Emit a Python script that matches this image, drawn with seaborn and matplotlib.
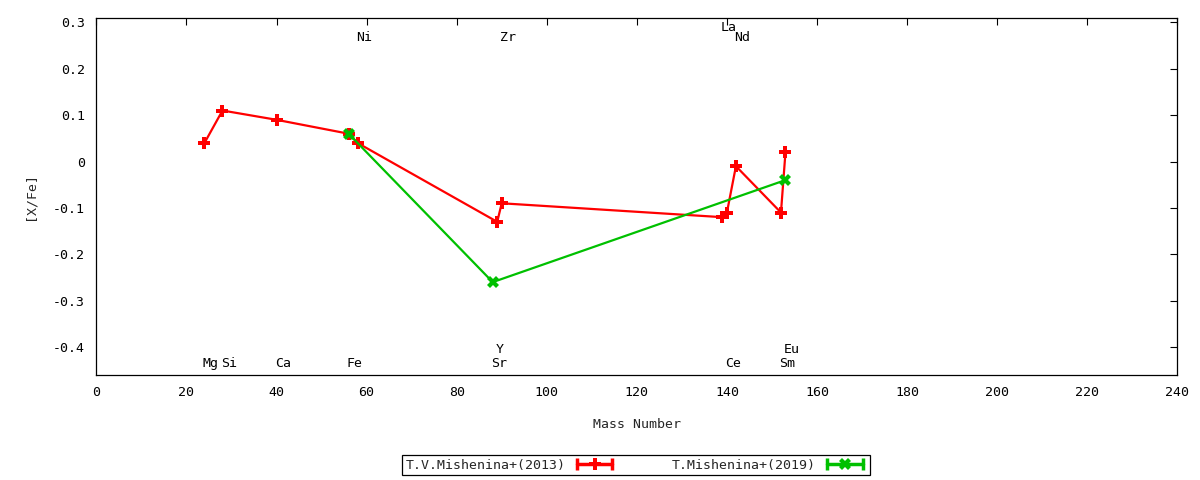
import numpy as np
import pandas as pd
import matplotlib
matplotlib.use("Agg")
import matplotlib.pyplot as plt
from matplotlib.lines import Line2D
from matplotlib.legend_handler import HandlerLine2D, HandlerTuple
import seaborn as sns

# ---- data ----
elements_2013 = ["Mg", "Si", "Ca", "Fe", "Ni", "Y", "Zr", "La", "Ce", "Nd", "Sm", "Eu"]
mass_2013 = [24, 28, 40, 56, 58, 89, 90, 139, 140, 142, 152, 153]
xfe_2013 = [0.04, 0.11, 0.09, 0.06, 0.04, -0.13, -0.09, -0.12, -0.11, -0.01, -0.11, 0.02]

elements_2019 = ["Fe", "Sr", "Eu"]
mass_2019 = [56, 88, 153]
xfe_2019 = [0.06, -0.26, -0.04]

# element name labels along the top and bottom of the plot
label_elements = ["Mg", "Si", "Ca", "Fe", "Sr", "Ce", "Sm", "Y", "Eu", "Ni", "Zr", "Nd", "La"]
label_mass = [24, 28, 40, 56, 88, 140, 152, 89, 153, 58, 90, 142, 139]
label_row = [0, 0, 0, 0, 0, 0, 0, 1, 1, 2, 2, 2, 3]

series_names = ["T.V.Mishenina+(2013)", "T.Mishenina+(2019)"]

df13 = pd.DataFrame({"mass": mass_2013, "xfe": xfe_2013})
df19 = pd.DataFrame({"mass": mass_2019, "xfe": xfe_2019})

sns.set_theme(style="white")
plt.rcParams["font.family"] = ["DejaVu Sans Mono", "DejaVu Sans"]
plt.rcParams["font.size"] = 9.5

fig = plt.figure(figsize=(12, 4.8), dpi=100)
ax = fig.add_axes([0.0803, 0.219, 0.9008, 0.744])

red = "#ff0000"
green = "#00c000"

sns.lineplot(data=df13, x="mass", y="xfe", sort=False, estimator=None, ax=ax,
             color=red, lw=1.6, marker="P", markersize=8.5, markeredgewidth=0,
             markerfacecolor=red)
sns.lineplot(data=df19, x="mass", y="xfe", sort=False, estimator=None, ax=ax,
             color=green, lw=1.6, marker="X", markersize=9, markeredgewidth=0,
             markerfacecolor=green)

# element labels
row_y = [-0.435, -0.405, 0.268, 0.29]
for el, m, r in zip(label_elements, label_mass, label_row):
    ax.text(m - 0.4, row_y[r], el, ha="left", va="center", fontsize=9.5, color="black")

ax.set_xlim(0, 240)
ax.set_ylim(-0.46, 0.31)
ax.set_xticks(np.arange(0, 241, 20))
ax.set_yticks([-0.4, -0.3, -0.2, -0.1, 0, 0.1, 0.2, 0.3])
ax.set_yticklabels(["-0.4", "-0.3", "-0.2", "-0.1", "0", "0.1", "0.2", "0.3"])
ax.tick_params(direction="in", length=5, width=0.8, top=True, right=True,
               colors="black", labelsize=9.5, pad=8)
for s in ax.spines.values():
    s.set_color("black")
    s.set_linewidth(0.9)
ax.grid(False)
ax.set_xlabel("Mass Number", fontsize=9.5, labelpad=14)
ax.set_ylabel("[X/Fe]", fontsize=9.5, labelpad=12)

# legend in gnuplot style: text first, then line sample with end caps
handles = []
hmap = {}
for col in [red, green]:
    caps = Line2D([], [], color=col, lw=2.5, marker="|", markersize=9, markeredgewidth=2.5)
    pt = Line2D([], [], color=col, ls="none", marker="P" if col == red else "X",
                markersize=8, markeredgewidth=0)
    hmap[caps] = HandlerLine2D(numpoints=2)
    hmap[pt] = HandlerLine2D(numpoints=1)
    handles.append((caps, pt))
hmap[tuple] = HandlerTuple(ndivide=1)

leg = fig.legend(handles, series_names, loc="center", bbox_to_anchor=(0.53, 0.031),
                 ncol=2, markerfirst=False, frameon=True, fancybox=False,
                 edgecolor="black", framealpha=1, handlelength=3.3,
                 columnspacing=4.2, borderpad=0.25, handletextpad=0.55,
                 fontsize=9.5, handler_map=hmap)
leg.get_frame().set_linewidth(0.9)

fig.savefig("out.png", dpi=100)
